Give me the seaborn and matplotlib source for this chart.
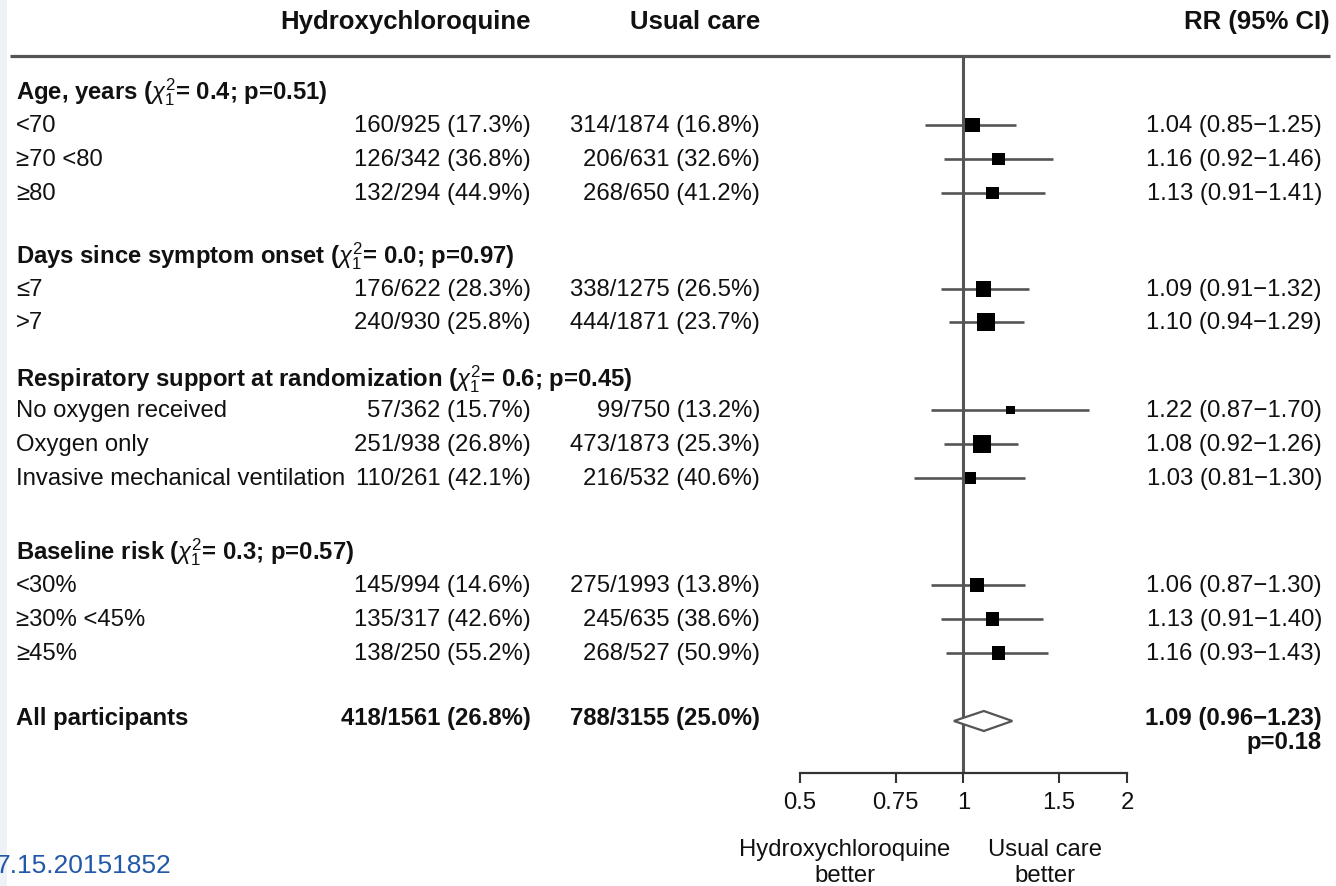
import matplotlib
matplotlib.use("Agg")
import matplotlib.pyplot as plt
from matplotlib.patches import Rectangle
import seaborn as sns
import numpy as np
import pandas as pd

# ---------------- data ----------------
group_titles = ["Age, years", "Days since symptom onset",
                "Respiratory support at randomization", "Baseline risk"]
group_chi2 = ["0.4", "0.0", "0.6", "0.3"]
group_p = ["0.51", "0.97", "0.45", "0.57"]

row_labels = ["<70", "\u226570 <80", "\u226580",
              "\u22647", ">7",
              "No oxygen received", "Oxygen only", "Invasive mechanical ventilation",
              "<30%", "\u226530% <45%", "\u226545%"]
hcq_events = [160, 126, 132, 176, 240, 57, 251, 110, 145, 135, 138]
hcq_total = [925, 342, 294, 622, 930, 362, 938, 261, 994, 317, 250]
hcq_pct = ["17.3", "36.8", "44.9", "28.3", "25.8", "15.7", "26.8", "42.1", "14.6", "42.6", "55.2"]
uc_events = [314, 206, 268, 338, 444, 99, 473, 216, 275, 245, 268]
uc_total = [1874, 631, 650, 1275, 1871, 750, 1873, 532, 1993, 635, 527]
uc_pct = ["16.8", "32.6", "41.2", "26.5", "23.7", "13.2", "25.3", "40.6", "13.8", "38.6", "50.9"]
rr = [1.04, 1.16, 1.13, 1.09, 1.10, 1.22, 1.08, 1.03, 1.06, 1.13, 1.16]
rr_lo = [0.85, 0.92, 0.91, 0.91, 0.94, 0.87, 0.92, 0.81, 0.87, 0.91, 0.93]
rr_hi = [1.25, 1.46, 1.41, 1.32, 1.29, 1.70, 1.26, 1.30, 1.30, 1.40, 1.43]

all_hcq = "418/1561 (26.8%)"
all_uc = "788/3155 (25.0%)"
all_rr, all_lo, all_hi = 1.09, 0.96, 1.23
all_p = "0.18"

xticks = [0.5, 0.75, 1, 1.5, 2]
xtick_labels = ["0.5", "0.75", "1", "1.5", "2"]

# ---------------- layout (pixel positions) ----------------
W, H = 1336, 887
header_y = 22
rule_y = 57
group_y = [92, 256, 379, 552]
row_y = [126, 160, 194, 290, 323, 411, 445, 479, 586, 620, 654]
all_y = 719
p_y = 743
axis_y = 774
x_label = 16
x_hcq = 531
x_uc = 760
x_rr = 1322
FS = 17.2
INK = "#111111"
LINE = "#555555"

sns.set_theme(style="white")
plt.rcParams["font.family"] = ["Liberation Sans", "DejaVu Sans"]
plt.rcParams["mathtext.fontset"] = "custom"
plt.rcParams["mathtext.rm"] = "Liberation Sans"
plt.rcParams["mathtext.it"] = "Liberation Sans:italic"
plt.rcParams["mathtext.bf"] = "Liberation Sans:bold"

fig = plt.figure(figsize=(W / 100, H / 100), dpi=100)
fig.patch.set_facecolor("white")

# text layer
tax = fig.add_axes([0, 0, 1, 1])
tax.set_xlim(0, W)
tax.set_ylim(H, 0)
tax.axis("off")
tax.add_patch(Rectangle((0, 0), 7, H, color="#eef1f6", lw=0))

tax.text(x_hcq, header_y, "Hydroxychloroquine", ha="right", va="center",
         fontsize=18.5, fontweight="bold", color=INK)
tax.text(x_uc, header_y, "Usual care", ha="right", va="center",
         fontsize=18.5, fontweight="bold", color=INK)
tax.text(1330, header_y, "RR (95% CI)", ha="right", va="center",
         fontsize=18.5, fontweight="bold", color=INK)
tax.hlines(rule_y, 10, 1330, color=LINE, lw=2.3)

for title, chi, p, gy in zip(group_titles, group_chi2, group_p, group_y):
    tax.text(x_label, gy, f"{title} ($\\chi^2_1$= {chi}; p={p})", ha="left",
             va="center", fontsize=FS, fontweight="bold", color=INK)

for i, lab in enumerate(row_labels):
    y = row_y[i]
    tax.text(x_label, y, lab, ha="left", va="center", fontsize=FS, color=INK)
    tax.text(x_hcq, y, f"{hcq_events[i]}/{hcq_total[i]} ({hcq_pct[i]}%)",
             ha="right", va="center", fontsize=FS, color=INK)
    tax.text(x_uc, y, f"{uc_events[i]}/{uc_total[i]} ({uc_pct[i]}%)",
             ha="right", va="center", fontsize=FS, color=INK)
    tax.text(x_rr, y, f"{rr[i]:.2f} ({rr_lo[i]:.2f}\u2212{rr_hi[i]:.2f})",
             ha="right", va="center", fontsize=FS, color=INK)

tax.text(x_label, all_y, "All participants", ha="left", va="center",
         fontsize=FS, fontweight="bold", color=INK)
tax.text(x_hcq, all_y, all_hcq, ha="right", va="center", fontsize=FS,
         fontweight="bold", color=INK)
tax.text(x_uc, all_y, all_uc, ha="right", va="center", fontsize=FS,
         fontweight="bold", color=INK)
tax.text(x_rr, all_y, f"{all_rr:.2f} ({all_lo:.2f}\u2212{all_hi:.2f})",
         ha="right", va="center", fontsize=FS, fontweight="bold", color=INK)
tax.text(x_rr, p_y, f"p={all_p}", ha="right", va="center", fontsize=FS,
         fontweight="bold", color=INK)

tax.text(845, 863, "Hydroxychloroquine\nbetter", ha="center", va="center",
         fontsize=FS, color=INK, linespacing=1.2)
tax.text(1045, 863, "Usual care\nbetter", ha="center", va="center",
         fontsize=FS, color=INK, linespacing=1.2)
tax.text(-4, 866, "7.15.20151852", ha="left", va="center", fontsize=19,
         color="#2158a8")

# forest layer
fax = fig.add_axes([800 / W, (H - axis_y) / H, (1127 - 800) / W, axis_y / H])
fax.patch.set_alpha(0)

se = (np.log(rr_hi) - np.log(rr_lo)) / (2 * 1.96)
side_px = 1.44 / se
df = pd.DataFrame({"rr": rr, "y": row_y})
fax.hlines(row_y, rr_lo, rr_hi, color=LINE, lw=1.9, zorder=2)
sns.scatterplot(data=df, x="rr", y="y", marker="s", s=(side_px * 0.72) ** 2,
                color="black", linewidth=0, legend=False, ax=fax, zorder=3)
fax.fill([all_lo, all_rr, all_hi, all_rr],
         [all_y + 3, all_y + 3 - 10, all_y + 3, all_y + 3 + 10],
         facecolor="white", edgecolor=LINE, lw=1.6, zorder=3)
fax.vlines(1, rule_y, axis_y, color=LINE, lw=2.2, zorder=1)

fax.set_xscale("log")
fax.set_xlim(0.5, 2)
fax.set_ylim(axis_y, 0)
fax.set_xticks(xticks)
fax.set_xticklabels(xtick_labels)
fax.minorticks_off()
fax.set_yticks([])
fax.set_xlabel("")
fax.set_ylabel("")
for s in ["top", "right", "left"]:
    fax.spines[s].set_visible(False)
fax.spines["bottom"].set_color("#333333")
fax.spines["bottom"].set_linewidth(1.6)
fax.tick_params(axis="x", bottom=True, direction="out", length=7, width=1.5,
                color="#333333", labelsize=FS, labelcolor=INK, pad=6)

fig.savefig("out.png", dpi=100)
